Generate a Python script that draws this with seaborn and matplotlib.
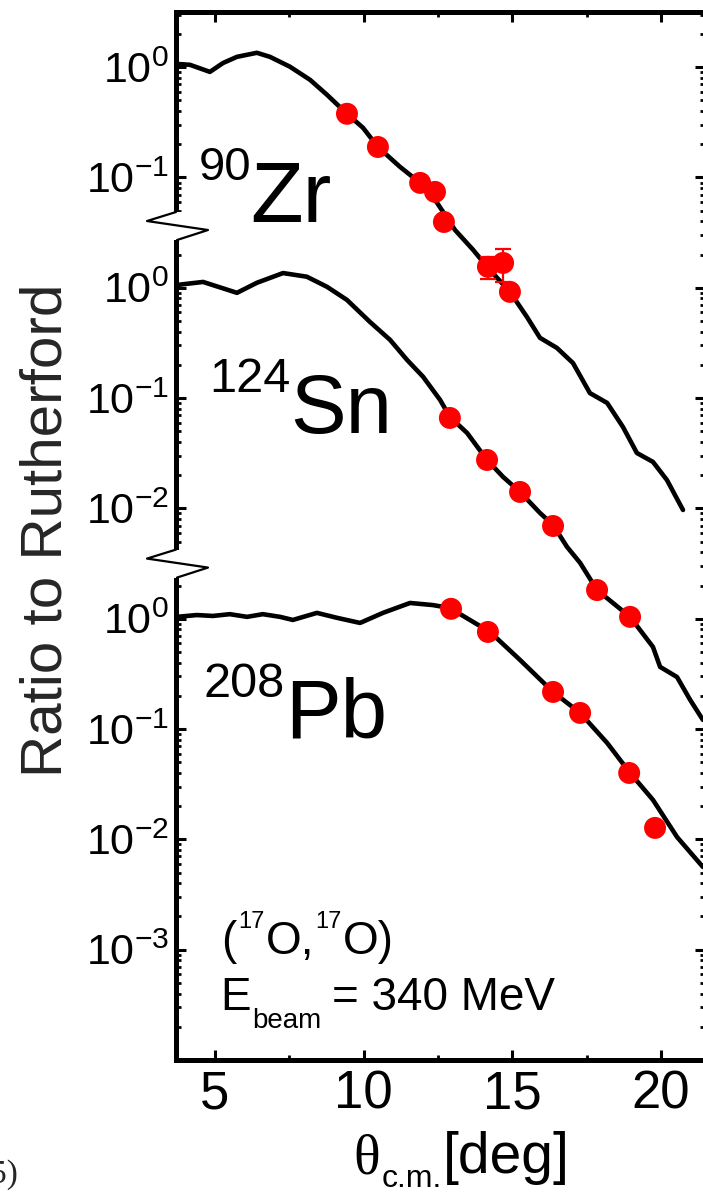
import numpy as np
import pandas as pd
import matplotlib
matplotlib.use("Agg")
import matplotlib.pyplot as plt
import seaborn as sns
from matplotlib.ticker import FixedLocator, LogLocator, NullFormatter, FixedFormatter
from matplotlib.transforms import IdentityTransform
from matplotlib.lines import Line2D
from matplotlib.patches import Rectangle

# ---------------- data ----------------
nuclei = ["Zr", "Sn", "Pb"]
mass_numbers = ["90", "124", "208"]
offsets = [1e5, 1e3, 1.0]          # vertical stacking factor of each panel

theta_zr_curve = [3.72, 4.16, 4.83, 5.27, 5.74, 6.41, 6.85, 7.52, 8.20, 8.77, 9.44, 9.98,
                  10.48, 11.22, 11.90, 12.47, 13.07, 13.68, 14.15, 14.92, 15.49, 15.93,
                  16.50, 17.04, 17.61, 18.19, 18.72, 19.19, 19.73, 20.20, 20.74]
ratio_zr_curve = [1.07, 1.05, 0.906, 1.09, 1.24, 1.35, 1.24, 1.01, 0.767, 0.561, 0.378, 0.282,
                  0.189, 0.125, 0.0893, 0.0589, 0.0335, 0.0221, 0.0155, 0.00918, 0.00545, 0.00352,
                  0.00285, 0.00208, 0.00111, 0.000904, 0.000548, 0.000318, 0.000264, 0.000181, 0.0000968]

theta_sn_curve = [3.72, 4.60, 5.74, 6.41, 7.29, 8.09, 8.77, 9.44, 10.21, 10.89, 11.46, 12.00,
                  12.57, 12.90, 13.48, 14.15, 14.69, 15.26, 15.93, 16.37, 16.84, 17.28, 17.85,
                  18.96, 19.73, 19.97, 20.54, 20.98, 21.41]
ratio_sn_curve = [1.06, 1.13, 0.90, 1.11, 1.36, 1.26, 1.02, 0.776, 0.491, 0.337, 0.222, 0.156,
                  0.0964, 0.0676, 0.0483, 0.0275, 0.0193, 0.0141, 0.00910, 0.00708, 0.00448, 0.00321,
                  0.00182, 0.00104, 0.000555, 0.000366, 0.000296, 0.000184, 0.000121]

theta_pb_curve = [3.72, 4.39, 4.93, 5.50, 6.08, 6.61, 7.19, 7.62, 8.43, 9.10, 9.88, 10.65,
                  11.56, 12.33, 12.90, 14.25, 15.26, 16.37, 17.28, 18.19, 18.96, 19.73, 20.54, 21.41]
ratio_pb_curve = [1.04, 1.08, 1.06, 1.10, 1.04, 1.10, 1.04, 0.975, 1.13, 1.02, 0.916, 1.13,
                  1.39, 1.33, 1.25, 0.759, 0.423, 0.217, 0.140, 0.0748, 0.0400, 0.0228, 0.0105, 0.00562]

theta_zr_data = [9.44, 10.48, 11.90, 12.40, 12.70, 14.18, 14.69, 14.92]
ratio_zr_data = [0.378, 0.189, 0.0893, 0.0740, 0.0395, 0.0155, 0.0168, 0.00918]
theta_zr_err = [14.18, 14.69]
ratio_zr_err = [0.0155, 0.0168]
err_zr = [0.0035, 0.0055]

theta_sn_data = [12.90, 14.15, 15.26, 16.37, 17.85, 18.96]
ratio_sn_data = [0.0661, 0.0275, 0.0141, 0.00693, 0.00182, 0.00104]

theta_pb_data = [12.94, 14.18, 16.37, 17.28, 18.93, 19.80]
ratio_pb_data = [1.23, 0.759, 0.217, 0.140, 0.0400, 0.0127]

panel_ticks = [[1, 0.1], [1, 0.1, 0.01], [1, 0.1, 0.01, 0.001]]
panel_tick_labels = [["0", "-1"], ["0", "-1", "-2"], ["0", "-1", "-2", "-3"]]
x_ticks = [5, 10, 15, 20]
x_minor_ticks = [7.5, 12.5, 17.5]

# ---------------- build tables ----------------
curve_sets = [(theta_zr_curve, ratio_zr_curve), (theta_sn_curve, ratio_sn_curve),
              (theta_pb_curve, ratio_pb_curve)]
data_sets = [(theta_zr_data, ratio_zr_data), (theta_sn_data, ratio_sn_data),
             (theta_pb_data, ratio_pb_data)]
curves = pd.concat([pd.DataFrame({"theta": t, "scaled": np.array(r) * off, "nucleus": n})
                    for (t, r), off, n in zip(curve_sets, offsets, nuclei)], ignore_index=True)
points = pd.concat([pd.DataFrame({"theta": t, "scaled": np.array(r) * off, "nucleus": n})
                    for (t, r), off, n in zip(data_sets, offsets, nuclei)], ignore_index=True)

# ---------------- figure ----------------
sns.set_theme(style="ticks")
plt.rcParams["font.family"] = ["Liberation Sans", "DejaVu Sans"]
plt.rcParams["mathtext.fontset"] = "custom"
plt.rcParams["mathtext.rm"] = "Liberation Sans"
plt.rcParams["mathtext.it"] = "Liberation Sans:italic"
plt.rcParams["mathtext.bf"] = "Liberation Sans:bold"

W, H = 703, 1196
fig = plt.figure(figsize=(W / 100, H / 100), dpi=100)
fig.patch.set_facecolor("white")
ax_left, ax_right, ax_top, ax_bottom = 176, 705, 12, 1060
ax = fig.add_axes([ax_left / W, 1 - ax_bottom / H, (ax_right - ax_left) / W, (ax_bottom - ax_top) / H])
ax.set_facecolor("white")

sns.lineplot(data=curves, x="theta", y="scaled", hue="nucleus", palette=["black"] * 3,
             estimator=None, legend=False, linewidth=3.3, ax=ax, zorder=2)
ax.errorbar(theta_zr_err, np.array(ratio_zr_err) * offsets[0], yerr=np.array(err_zr) * offsets[0],
            fmt="none", ecolor="red", elinewidth=1.6, capsize=6, capthick=1.6, zorder=3)
sns.scatterplot(data=points, x="theta", y="scaled", color="red", s=250, edgecolor="none",
                legend=False, ax=ax, zorder=4)

ax.set_yscale("log")
ax.set_xlim(3.69, 21.48)
ax.set_ylim(1e-4, 10 ** 5.5)

ytick_pos, ytick_lab = [], []
for ticks, labs, off in zip(panel_ticks, panel_tick_labels, offsets):
    for t, l in zip(ticks, labs):
        ytick_pos.append(t * off)
        ytick_lab.append(r"$\mathregular{10^{%s}}$" % l)
ax.yaxis.set_major_locator(FixedLocator(ytick_pos))
ax.yaxis.set_major_formatter(FixedFormatter(ytick_lab))
ax.yaxis.set_minor_locator(LogLocator(base=10, subs=np.arange(2, 10), numticks=30))
ax.yaxis.set_minor_formatter(NullFormatter())
ax.xaxis.set_major_locator(FixedLocator(x_ticks))
ax.xaxis.set_major_formatter(FixedFormatter([str(v) for v in x_ticks]))
ax.xaxis.set_minor_locator(FixedLocator(x_minor_ticks))

ax.set_xlabel("")
ax.set_ylabel("")
for s in ax.spines.values():
    s.set_linewidth(3.6)
    s.set_color("black")
ax.tick_params(which="both", direction="in", top=True, right=True, colors="black")
ax.tick_params(which="major", length=7, width=2.2)
ax.tick_params(which="minor", length=3.6, width=2.0)
ax.tick_params(axis="y", which="major", labelsize=31, pad=5)
ax.tick_params(axis="x", which="major", labelsize=38, pad=7)

fig.text(47 / W, 1 - 530 / H, "Ratio to Rutherford", rotation=90, fontsize=42,
         ha="center", va="center")

fig.canvas.draw()
renderer = fig.canvas.get_renderer()


def put_seq(x, y_base, pieces):
    for s, size, rise, gap, fam in pieces:
        t = fig.text(x / W, 1 - (y_base - rise) / H, s, fontsize=size, family=fam,
                     va="baseline", ha="left", color="black")
        bb = t.get_window_extent(renderer)
        x = bb.x1 + gap


SANS = ["Liberation Sans", "DejaVu Sans"]
SERIF = ["Liberation Serif", "DejaVu Serif"]

put_seq(199, 222, [(mass_numbers[0], 34, 42, -1, SANS), (nuclei[0], 62, 0, 0, SANS)])
put_seq(209, 433, [(mass_numbers[1], 35, 41, 0, SANS), (nuclei[1], 60, 0, 0, SANS)])
put_seq(204, 737, [(mass_numbers[2], 35, 40, 0, SANS), (nuclei[2], 60, 0, 0, SANS)])

put_seq(221, 954, [("(", 33, 0, 2, SANS), ("17", 17, 26, 1, SANS), ("O,", 33, 0, 1, SANS),
                   ("17", 17, 26, 1, SANS), ("O)", 33, 0, 0, SANS)])
put_seq(220, 1010, [("E", 33, 0, 2, SANS), ("beam", 20, -18, 10, SANS),
                    ("= 340 MeV", 33, 0, 0, SANS)])
put_seq(353, 1173, [("θ", 40, 0, 2, SERIF), ("c.m.", 23, -14, 1, SANS), ("[deg]", 41, 0, 0, SANS)])

fig.text(18 / W, 1 - 1183 / H, "(5)", fontsize=24, family=SERIF, ha="right", va="baseline")

# ---------------- axis-break marks on the left spine ----------------
x0 = ax.transData.transform((3.69, 1.0))[0]
for ylog in [3.56, 0.50]:
    yc = ax.transData.transform((3.69, 10 ** ylog))[1]
    fig.add_artist(Rectangle((x0 - 6, yc - 14), 20, 28, transform=IdentityTransform(),
                             facecolor="white", edgecolor="none", zorder=10))
    fig.add_artist(Line2D([x0, x0 - 29, x0 + 32, x0 + 1], [yc + 14, yc + 5, yc - 4, yc - 14],
                          transform=IdentityTransform(), color="black", lw=1.6, zorder=11))

fig.savefig("out.png", dpi=100, facecolor="white")
